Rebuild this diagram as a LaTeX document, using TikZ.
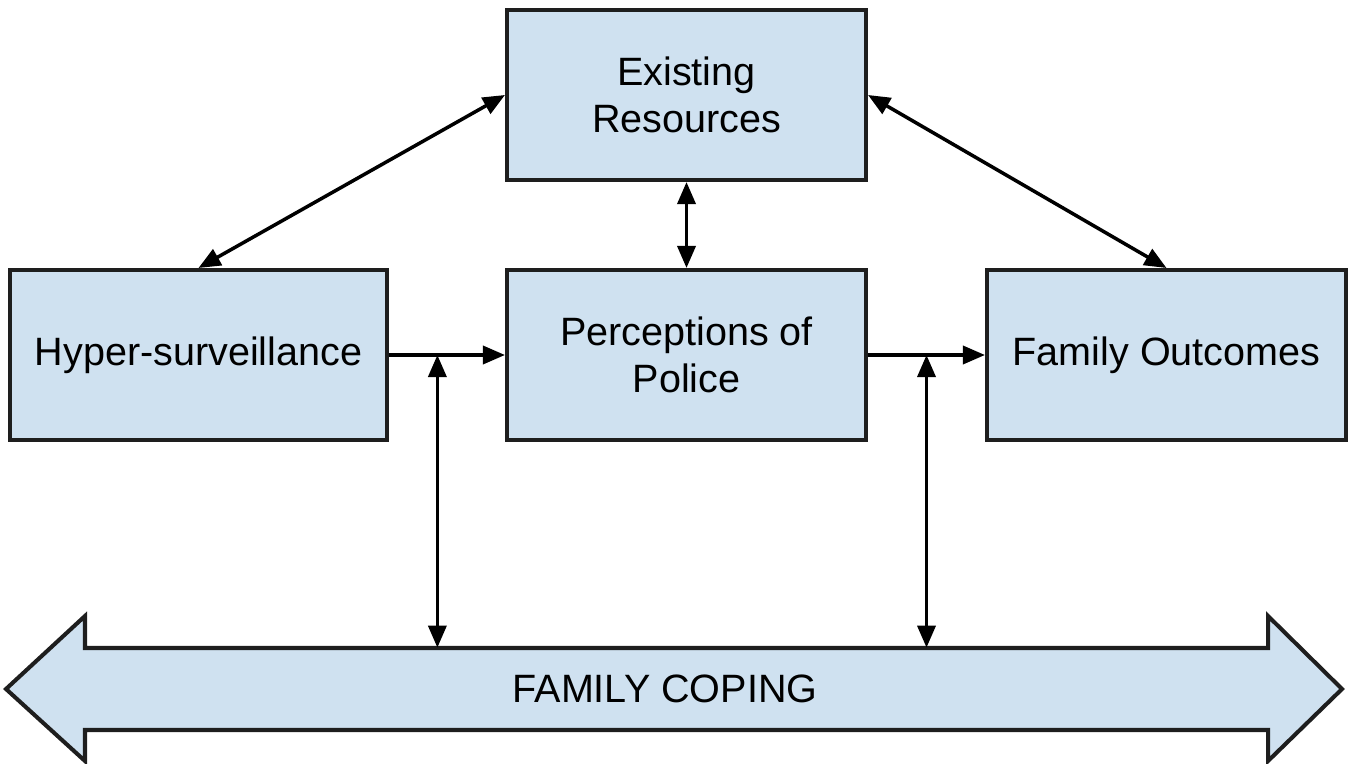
\documentclass[tikz,border=0pt]{standalone}
\usepackage{fontspec}
\setmainfont{Liberation Sans}
\usepackage{xcolor}
\usetikzlibrary{arrows.meta}

\definecolor{boxblue}{RGB}{207,225,240}
\definecolor{edge}{RGB}{30,30,30}

\begin{document}
\begin{tikzpicture}[
	>={Triangle[length=0.44cm,width=0.36cm]},
	box/.style={draw=edge, fill=boxblue, line width=2.3pt, minimum width=7.18cm, minimum height=3.4cm, align=center, font=\fontsize{22.5}{27}\selectfont},
	link/.style={draw=black, line width=2pt}
]

\useasboundingbox (0,0) rectangle (27.06,-15.28);

\def \r {-7.1}

\node[box] (res) at (13.73,-1.9) {Existing\\Resources};
\node[box, minimum width=7.54cm] (hyp) at (3.97,\r) {Hyper-surveillance};
\node[box] (per) at (13.73,\r) {Perceptions of\\Police};
\node[box] (out) at (23.33,\r) {Family Outcomes};

% the big double arrow at the bottom
\draw[fill=boxblue, draw=edge, line width=2.3pt]
	(0.12,-13.78)--(1.7,-12.32)--(1.7,-12.96)--(25.36,-12.96)--(25.36,-12.32)--(26.84,-13.78)
	--(25.36,-15.22)--(25.36,-14.6)--(1.7,-14.6)--(1.7,-15.22)--cycle;
\node[minimum height=1.64cm, inner sep=0pt, font=\fontsize{22.5}{27}\selectfont] (cop) at (13.3,-13.78) {FAMILY COPING};

\draw[link,<->] (res.west) -- (hyp.north);
\draw[link,<->] (res.east) -- (out.north);
\draw[link,<->] (res.south) -- (per.north);

\draw[link,->] (hyp.east) -- coordinate[pos=0.417] (hp) (per.west);
\draw[link,->] (per.east) -- coordinate[pos=0.5] (po) (out.west);

\draw[link,<->] (hp) -- (hp |- cop.north);
\draw[link,<->] (po) -- (po |- cop.north);

\end{tikzpicture}
\end{document}
